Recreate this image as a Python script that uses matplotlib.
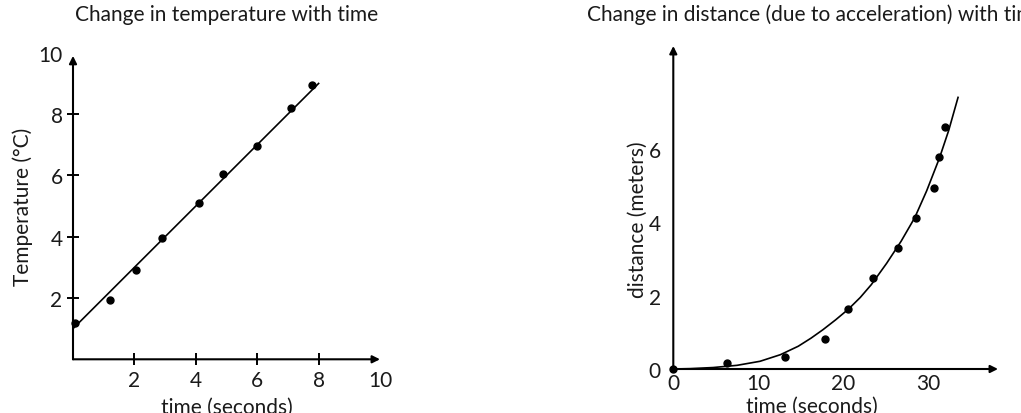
import matplotlib.pyplot as plt

plt.rcParams['font.family'] = ['Lato', 'DejaVu Sans']
ink = '#1a1a1a'

# left chart: temperature against time
temp_time = [0.05, 1.2, 2.05, 2.9, 4.1, 4.9, 6.0, 7.1, 7.8]
temp_vals = [1.2, 1.95, 2.9, 3.95, 5.1, 6.05, 6.95, 8.2, 8.95]
temp_fit_x = [0, 8]
temp_fit_y = [1, 9]
temp_xticks = [2, 4, 6, 8, 10]
temp_yticks = [2, 4, 6, 8, 10]

# right chart: distance against time
dist_time = [0, 6.3, 13.1, 17.8, 20.6, 23.5, 26.4, 28.5, 30.7, 31.3, 32.0]
dist_vals = [0, 0.15, 0.32, 0.82, 1.63, 2.47, 3.29, 4.11, 4.93, 5.77, 6.59]
# trend curve
dist_fit_x = [0, 2.0, 4.7, 7.5, 10.2, 12.6, 14.7, 16.2, 17.6, 19.1, 20.6, 22.0,
              23.3, 25.1, 26.8, 28.4, 29.8, 31.3, 32.4, 33.5]
dist_fit_y = [0, 0.01, 0.04, 0.10, 0.21, 0.39, 0.62, 0.84, 1.07, 1.34, 1.63, 1.95,
              2.30, 2.88, 3.48, 4.12, 4.85, 5.74, 6.50, 7.40]
dist_xticks = [0, 10, 20, 30]
dist_yticks = [0, 2, 4, 6]

W, H = 1021, 414
fig = plt.figure(figsize=(W / 100, H / 100), dpi=100)

arrow = dict(arrowstyle='-|>', color='black', lw=1.5, mutation_scale=11,
             shrinkA=0, shrinkB=0)

# ---- left
ax1 = fig.add_axes([73 / W, 53.7 / H, 307 / W, 306.5 / H])
ax1.set_xlim(0, 10)
ax1.set_ylim(0, 10)
for s in ax1.spines.values():
    s.set_visible(False)
ax1.annotate('', xy=(10, 0), xytext=(0, 0), arrowprops=arrow, annotation_clip=False)
ax1.annotate('', xy=(0, 9.9), xytext=(0, 0), arrowprops=arrow, annotation_clip=False)
ax1.plot(temp_fit_x, temp_fit_y, color='black', lw=1.2)
ax1.plot(temp_time, temp_vals, 'o', color='black', ms=5, clip_on=False)
ax1.set_xticks(temp_xticks)
ax1.set_yticks(temp_yticks)
ax1.tick_params(direction='inout', length=9, width=1.4, labelsize=15,
                colors='black', labelcolor=ink, pad=3)
ax1.xaxis.get_major_ticks()[-1].tick1line.set_visible(False)
ax1.yaxis.get_major_ticks()[-1].tick1line.set_visible(False)
fig.text(227 / W, 1 - 15 / H, 'Change in temperature with time', ha='center',
         va='center', fontsize=15, color=ink)
fig.text(23 / W, 1 - 207 / H, 'Temperature (°C)', ha='center', va='center',
         rotation=90, fontsize=15, color=ink)
fig.text(227 / W, 1 - 408 / H, 'time (seconds)', ha='center', va='center',
         fontsize=15, color=ink)

# ---- right
ax2 = fig.add_axes([673.3 / W, 44 / H, 324.7 / W, 323 / H])
ax2.set_xlim(0, 38.2)
ax2.set_ylim(0, 8.8)
for s in ax2.spines.values():
    s.set_visible(False)
ax2.annotate('', xy=(38.2, 0), xytext=(0, 0), arrowprops=arrow, annotation_clip=False)
ax2.annotate('', xy=(0, 8.8), xytext=(0, 0), arrowprops=arrow, annotation_clip=False)
ax2.plot(dist_fit_x, dist_fit_y, color='black', lw=1.2)
ax2.plot(dist_time, dist_vals, 'o', color='black', ms=5, clip_on=False)
ax2.set_xticks(dist_xticks)
ax2.set_yticks(dist_yticks)
ax2.tick_params(length=0, labelsize=15, labelcolor=ink)
ax2.tick_params(axis='y', pad=9)
ax2.tick_params(axis='x', pad=3)
fig.text(587 / W, 1 - 15 / H, 'Change in distance (due to acceleration) with time',
         ha='left', va='center', fontsize=15, color=ink)
fig.text(638 / W, 1 - 220 / H, 'distance (meters)', ha='center', va='center',
         rotation=90, fontsize=15, color=ink)
fig.text(812 / W, 1 - 407 / H, 'time (seconds)', ha='center', va='center',
         fontsize=15, color=ink)

fig.savefig('out.png', dpi=100)
